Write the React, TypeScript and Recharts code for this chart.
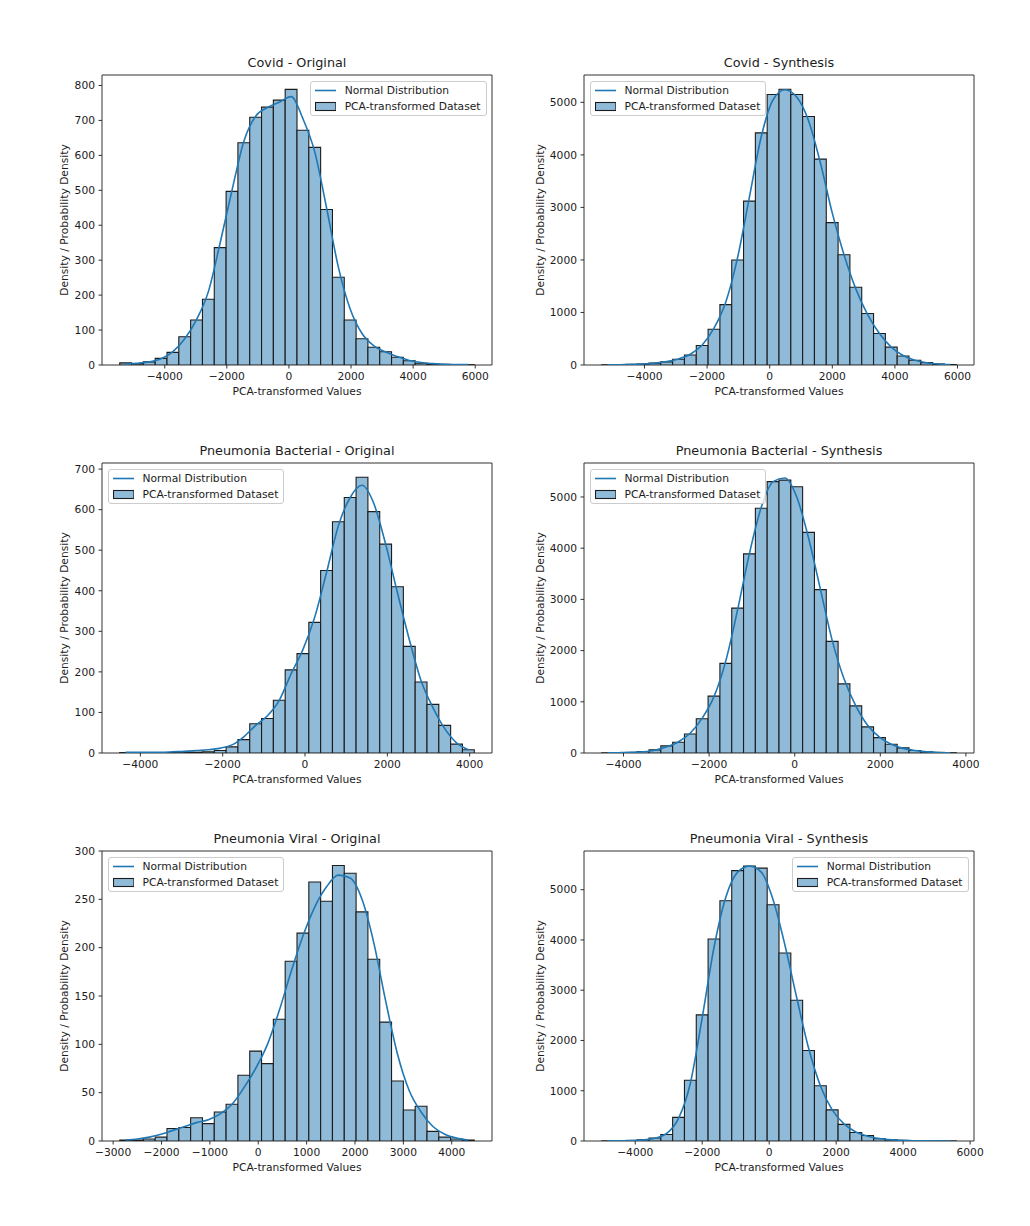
import { Bar, ComposedChart, Line, ReferenceArea, XAxis, YAxis } from "recharts";

const FONT = '"DejaVu Sans", "Liberation Sans", sans-serif';
const INK = "#1c1c1c";
const BAR_FILL = "#8fbbd9";
const BAR_EDGE = "#1c1c1c";
const KDE_BLUE = "#1f77b4";
const FRAME_INK = "#333";

// Each panel: [min, max] of the binned values, 30 bin counts, and the KDE
// curve read at each bin centre.
const covidOrigRange = [-5449, 5969];
const covidOrigCounts = [
  6, 4, 9, 19, 36, 81, 129, 188, 336, 497, 636, 709, 738, 758, 789, 672, 623,
  445, 251, 129, 75, 51, 38, 22, 12, 5, 3, 2, 1, 1,
];
const covidOrigKde = [
  4, 5, 9, 18, 38, 75, 130, 210, 350, 500, 640, 712, 737, 752, 768, 705, 610,
  450, 280, 160, 90, 55, 37, 24, 13, 7, 4, 2, 1, 1,
];

const covidSynthRange = [-5367, 5961];
const covidSynthCounts = [
  4, 7, 12, 20, 35, 60, 110, 190, 370, 680, 1150, 2000, 3120, 4420, 5150, 5250,
  5150, 4730, 3920, 2710, 2100, 1480, 980, 600, 340, 170, 90, 45, 20, 8,
];
const covidSynthKde = [
  3, 6, 11, 20, 36, 65, 115, 205, 380, 700, 1200, 2050, 3200, 4350, 5050, 5240,
  5100, 4650, 3850, 2900, 2100, 1450, 960, 600, 340, 180, 90, 42, 18, 7,
];

const bactOrigRange = [-4501, 4112];
const bactOrigCounts = [
  1, 0, 0, 0, 1, 1, 2, 3, 6, 15, 33, 72, 85, 130, 205, 245, 322, 450, 570, 630,
  680, 595, 515, 410, 263, 175, 120, 68, 22, 8,
];
const bactOrigKde = [
  2, 2, 2, 2, 3, 4, 6, 8, 12, 20, 40, 68, 92, 130, 195, 255, 335, 445, 560,
  630, 660, 615, 515, 395, 280, 178, 112, 60, 25, 8,
];

const bactSynthRange = [-4509, 3775];
const bactSynthCounts = [
  3, 6, 12, 28, 62, 140, 210, 370, 670, 1110, 1750, 2830, 3890, 4780, 5300,
  5330, 5200, 4310, 3190, 2180, 1350, 920, 510, 300, 170, 100, 50, 25, 12, 5,
];
const bactSynthKde = [
  3, 6, 12, 25, 55, 120, 220, 390, 680, 1100, 1800, 2800, 3900, 4800, 5300,
  5370, 5000, 4200, 3200, 2200, 1450, 920, 540, 310, 170, 90, 48, 24, 11, 5,
];

const viralOrigRange = [-2864, 4466];
const viralOrigCounts = [
  1, 1, 2, 4, 13, 14, 24, 18, 30, 38, 68, 93, 80, 126, 186, 215, 268, 248, 285,
  277, 237, 188, 123, 62, 32, 36, 10, 4, 2, 1,
];
const viralOrigKde = [
  1, 2, 4, 7, 11, 15, 19, 22, 28, 38, 55, 75, 100, 135, 175, 212, 242, 263,
  275, 272, 250, 205, 145, 90, 52, 30, 15, 7, 3, 1,
];

const viralSynthRange = [-5001, 5587];
const viralSynthCounts = [
  2, 5, 12, 25, 60, 130, 470, 1210, 2510, 4020, 4780, 5380, 5470, 5430, 4700,
  3740, 2800, 1800, 1100, 620, 330, 170, 110, 45, 25, 12, 6, 3, 2, 1,
];
const viralSynthKde = [
  1, 3, 8, 20, 55, 150, 450, 1150, 2450, 3850, 4850, 5350, 5470, 5350, 4800,
  3900, 2850, 1850, 1100, 620, 340, 180, 95, 50, 25, 12, 6, 3, 1, 1,
];

const X_TICKS_WIDE = [-4000, -2000, 0, 2000, 4000, 6000];
const X_TICKS_BACT = [-4000, -2000, 0, 2000, 4000];
const X_TICKS_VIRAL = [-3000, -2000, -1000, 0, 1000, 2000, 3000, 4000];
const Y_TICKS_800 = [0, 100, 200, 300, 400, 500, 600, 700, 800];
const Y_TICKS_700 = [0, 100, 200, 300, 400, 500, 600, 700];
const Y_TICKS_300 = [0, 50, 100, 150, 200, 250, 300];
const Y_TICKS_5000 = [0, 1000, 2000, 3000, 4000, 5000];

const X_LABEL = "PCA-transformed Values";
const Y_LABEL = "Density / Probability Density";
const LEGEND_LINE = "Normal Distribution";
const LEGEND_BAR = "PCA-transformed Dataset";

type PanelSpec = {
  title: string;
  range: number[];
  counts: number[];
  kde: number[];
  xTicks: number[];
  yTicks: number[];
  yMax: number;
  legend: "left" | "right";
  left: number;
  top: number;
};

const PANELS: PanelSpec[] = [
  { title: "Covid - Original", range: covidOrigRange, counts: covidOrigCounts, kde: covidOrigKde, xTicks: X_TICKS_WIDE, yTicks: Y_TICKS_800, yMax: 830, legend: "right", left: 102, top: 75 },
  { title: "Covid - Synthesis", range: covidSynthRange, counts: covidSynthCounts, kde: covidSynthKde, xTicks: X_TICKS_WIDE, yTicks: Y_TICKS_5000, yMax: 5521, legend: "left", left: 584, top: 75 },
  { title: "Pneumonia Bacterial - Original", range: bactOrigRange, counts: bactOrigCounts, kde: bactOrigKde, xTicks: X_TICKS_BACT, yTicks: Y_TICKS_700, yMax: 715, legend: "left", left: 102, top: 463 },
  { title: "Pneumonia Bacterial - Synthesis", range: bactSynthRange, counts: bactSynthCounts, kde: bactSynthKde, xTicks: X_TICKS_BACT, yTicks: Y_TICKS_5000, yMax: 5664, legend: "left", left: 584, top: 463 },
  { title: "Pneumonia Viral - Original", range: viralOrigRange, counts: viralOrigCounts, kde: viralOrigKde, xTicks: X_TICKS_VIRAL, yTicks: Y_TICKS_300, yMax: 300, legend: "left", left: 102, top: 851 },
  { title: "Pneumonia Viral - Synthesis", range: viralSynthRange, counts: viralSynthCounts, kde: viralSynthKde, xTicks: X_TICKS_WIDE, yTicks: Y_TICKS_5000, yMax: 5770, legend: "right", left: 584, top: 851 },
];

const FRAME_W = 390;
const FRAME_H = 290;
const PAD_L = 60;
const PAD_T = 10;
const PAD_R = 12;
const PAD_B = 40;
const FS = 10.7;

const fmt = (v: number) => String(v).replace("-", "\u2212");

const tickStyle = { fontSize: FS, fill: INK, fontFamily: FONT };

function LegendBox({ side }: { side: "left" | "right" }) {
  const pos =
    side === "left" ? { left: PAD_L + 5.5 } : { right: PAD_R + 5.5 };
  return (
    <div
      style={{
        position: "absolute",
        top: PAD_T + 5.5,
        ...pos,
        border: "1px solid #cccccc",
        borderRadius: 3,
        background: "rgba(255,255,255,0.8)",
        padding: "3px 5px 3px 4px",
        fontSize: FS,
        fontFamily: FONT,
        color: INK,
        lineHeight: "11px",
        whiteSpace: "nowrap",
      }}
    >
      <div style={{ display: "flex", alignItems: "center", height: 11 }}>
        <svg width={21.4} height={11}>
          <line x1={0} x2={21.4} y1={5.5} y2={5.5} stroke={KDE_BLUE} strokeWidth={1.6} />
        </svg>
        <span style={{ marginLeft: 8.6 }}>{LEGEND_LINE}</span>
      </div>
      <div style={{ display: "flex", alignItems: "center", height: 11, marginTop: 5.5 }}>
        <svg width={21.4} height={11}>
          <rect x={0.5} y={1.5} width={20.4} height={8} fill={BAR_FILL} stroke={BAR_EDGE} strokeWidth={1.1} />
        </svg>
        <span style={{ marginLeft: 8.6 }}>{LEGEND_BAR}</span>
      </div>
    </div>
  );
}

function Panel({ spec }: { spec: PanelSpec }) {
  const [lo, hi] = spec.range;
  const span = hi - lo;
  const binW = span / spec.counts.length;
  const rows = spec.counts.map((count, i) => ({
    x: lo + binW * (i + 0.5),
    count,
    kde: spec.kde[i],
  }));
  // matplotlib-style 5% x margins
  const domain = [lo - span * 0.05, hi + span * 0.05];
  const barPx = (binW / (domain[1] - domain[0])) * FRAME_W;
  const chartW = PAD_L + FRAME_W + PAD_R;
  const chartH = PAD_T + FRAME_H + PAD_B;
  const yLabelGap = String(spec.yTicks[spec.yTicks.length - 1]).length >= 4 ? 44.5 : 38;

  return (
    <div
      style={{
        position: "absolute",
        left: spec.left - PAD_L,
        top: spec.top - PAD_T,
        width: chartW,
        height: chartH,
      }}
    >
      <ComposedChart
        width={chartW}
        height={chartH}
        data={rows}
        margin={{ top: PAD_T, right: PAD_R, bottom: 0, left: 0 }}
        barGap={0}
        barCategoryGap={0}
      >
        <XAxis
          dataKey="x"
          type="number"
          domain={domain}
          ticks={spec.xTicks}
          allowDataOverflow
          interval={0}
          height={PAD_B}
          axisLine={false}
          tickLine={{ stroke: INK, strokeWidth: 0.9 }}
          tickSize={3.5}
          tickMargin={4}
          tick={tickStyle}
          tickFormatter={fmt}
        />
        <YAxis
          type="number"
          domain={[0, spec.yMax]}
          ticks={spec.yTicks}
          allowDataOverflow
          interval={0}
          width={PAD_L}
          axisLine={false}
          tickLine={{ stroke: INK, strokeWidth: 0.9 }}
          tickSize={3.5}
          tickMargin={3.5}
          tick={tickStyle}
        />
        <Bar
          dataKey="count"
          fill={BAR_FILL}
          stroke={BAR_EDGE}
          strokeWidth={1.1}
          barSize={barPx - 0.001}
          isAnimationActive={false}
        />
        <Line
          dataKey="kde"
          type="monotone"
          stroke={KDE_BLUE}
          strokeWidth={1.6}
          dot={false}
          activeDot={false}
          isAnimationActive={false}
        />
        <ReferenceArea
          x1={domain[0]}
          x2={domain[1]}
          y1={0}
          y2={spec.yMax}
          fill="none"
          fillOpacity={0}
          stroke={FRAME_INK}
          strokeWidth={1}
          ifOverflow="visible"
        />
      </ComposedChart>

      <div
        style={{
          position: "absolute",
          left: PAD_L,
          width: FRAME_W,
          top: PAD_T - 20,
          height: 16,
          lineHeight: "16px",
          textAlign: "center",
          fontSize: 12.8,
          fontFamily: FONT,
          color: INK,
          whiteSpace: "nowrap",
        }}
      >
        {spec.title}
      </div>

      <div
        style={{
          position: "absolute",
          left: PAD_L,
          width: FRAME_W,
          top: PAD_T + FRAME_H + 19,
          height: 16,
          lineHeight: "16px",
          textAlign: "center",
          fontSize: FS,
          fontFamily: FONT,
          color: INK,
          whiteSpace: "nowrap",
        }}
      >
        {X_LABEL}
      </div>

      <div
        style={{
          position: "absolute",
          left: PAD_L - yLabelGap,
          top: PAD_T + FRAME_H / 2,
          transform: "translate(-50%, -50%) rotate(-90deg)",
          fontSize: FS,
          fontFamily: FONT,
          color: INK,
          lineHeight: "13px",
          whiteSpace: "nowrap",
        }}
      >
        {Y_LABEL}
      </div>

      <LegendBox side={spec.legend} />
    </div>
  );
}

export default function App() {
  return (
    <div
      style={{
        position: "absolute",
        left: 0,
        top: 0,
        width: 1030,
        height: 1226,
        background: "#fff",
        overflow: "hidden",
      }}
    >
      {PANELS.map((p) => (
        <Panel key={p.title} spec={p} />
      ))}
    </div>
  );
}
